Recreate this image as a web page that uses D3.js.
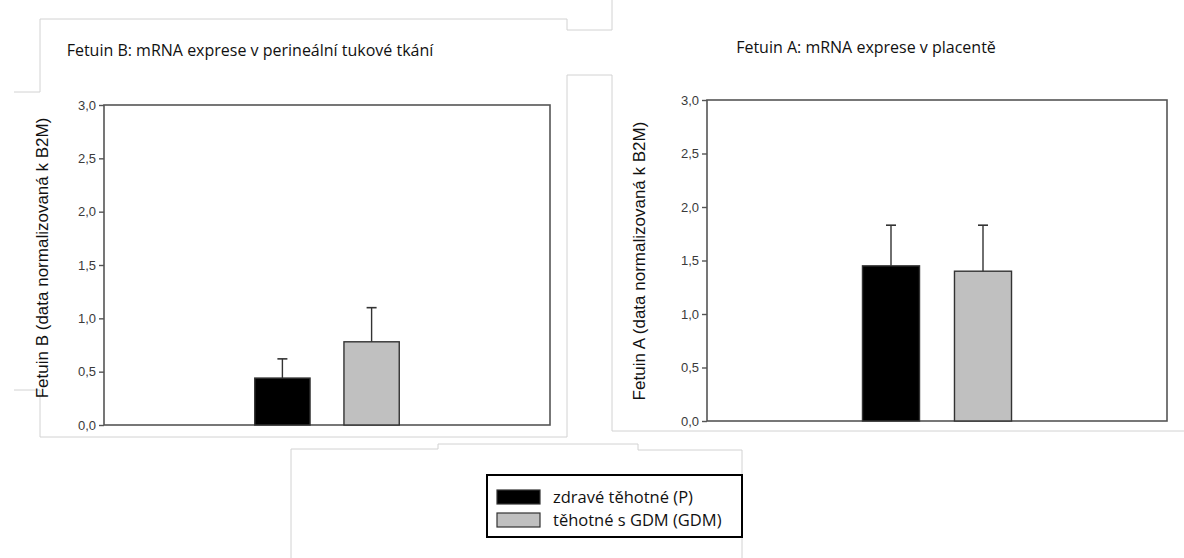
<!DOCTYPE html>
<html>
<head>
<meta charset="utf-8">
<script src="https://cdn.jsdelivr.net/npm/d3@7"></script>
<style>
  html, body { margin: 0; padding: 0; background: #fff; }
  svg { display: block; }
</style>
</head>
<body>
<svg id="chart" width="1184" height="558"></svg>
<script>
// Groups and their fills
const groups = ["zdravé těhotné (P)", "těhotné s GDM (GDM)"];
const groupColors = ["#000000", "#c0c0c0"];

// Fetuin B, perineal adipose tissue: means and upper error (SD)
const fetuinBMean = [0.44, 0.78];
const fetuinBErr = [0.18, 0.32];

// Fetuin A, placenta: means and upper error (SD)
const fetuinAMean = [1.45, 1.40];
const fetuinAErr = [0.38, 0.43];

// Y axis ticks
const yTicks = [0, 0.5, 1.0, 1.5, 2.0, 2.5, 3.0];

const titles = [
  "Fetuin B: mRNA exprese v perineální tukové tkání",
  "Fetuin A: mRNA exprese v placentě"
];
const yLabels = [
  "Fetuin B (data normalizovaná k B2M)",
  "Fetuin A (data normalizovaná k B2M)"
];

const svg = d3.select("#chart");
svg.append("rect").attr("width", 1184).attr("height", 558).attr("fill", "#fff");

// Faint outlines of the pasted panels
const pasteEdges = [
  [[40, 92], [40, 19], [567, 19], [567, 30], [612, 30], [612, 0]],
  [[14, 92], [40, 92]],
  [[612, 75], [567, 75], [567, 437], [40, 437], [40, 390], [14, 390]],
  [[612, 75], [612, 431], [1184, 431]],
  [[291, 558], [291, 449], [438, 449], [438, 444], [638, 444], [638, 450], [742, 450], [742, 558]]
];
svg.append("g").selectAll("path").data(pasteEdges).join("path")
  .attr("d", d => d3.line()(d))
  .attr("fill", "none")
  .attr("stroke", "#d2d2d2")
  .attr("stroke-width", 1);

const fmt = v => d3.format(".1f")(v).replace(".", ",");

function panel(cfg) {
  const { x0, x1, y0, y1, means, errs, title, titleX, titleY, yLabel, yLabelX, yLabelY } = cfg;
  const g = svg.append("g");
  const y = d3.scaleLinear().domain([0, 3]).range([y1, y0]);
  const w = x1 - x0;
  const x = d3.scaleBand().domain(groups)
    .range([x0 + 0.3 * w, x0 + 0.7 * w])
    .paddingInner(0.38).paddingOuter(0.19);

  // frame
  g.append("rect")
    .attr("x", x0).attr("y", y0).attr("width", w).attr("height", y1 - y0)
    .attr("fill", "none").attr("stroke", "#555").attr("stroke-width", 1.6);

  // y axis
  const ax = g.append("g").attr("transform", `translate(${x0},0)`)
    .call(d3.axisLeft(y).tickValues(yTicks).tickFormat(fmt).tickSize(5).tickPadding(3));
  ax.select(".domain").remove();
  ax.selectAll(".tick line").attr("stroke", "#555").attr("stroke-width", 1.4);
  ax.selectAll(".tick text")
    .attr("fill", "#3a3a3a")
    .style("font-family", "'Liberation Sans', Arial, sans-serif")
    .style("font-size", "13px");

  // bars
  const data = groups.map((k, i) => ({ k, m: means[i], e: errs[i], c: groupColors[i] }));
  g.append("g").selectAll("rect").data(data).join("rect")
    .attr("x", d => x(d.k))
    .attr("width", x.bandwidth())
    .attr("y", d => y(d.m))
    .attr("height", d => y(0) - y(d.m))
    .attr("fill", d => d.c)
    .attr("stroke", "#333")
    .attr("stroke-width", 1.4);

  // upper error bars
  const eb = g.append("g").selectAll("g").data(data).join("g");
  eb.append("line")
    .attr("x1", d => x(d.k) + x.bandwidth() / 2)
    .attr("x2", d => x(d.k) + x.bandwidth() / 2)
    .attr("y1", d => y(d.m))
    .attr("y2", d => y(d.m + d.e))
    .attr("stroke", "#333").attr("stroke-width", 1.4);
  eb.append("line")
    .attr("x1", d => x(d.k) + x.bandwidth() / 2 - 5)
    .attr("x2", d => x(d.k) + x.bandwidth() / 2 + 5)
    .attr("y1", d => y(d.m + d.e))
    .attr("y2", d => y(d.m + d.e))
    .attr("stroke", "#333").attr("stroke-width", 1.6);

  // title
  svg.append("text")
    .attr("x", titleX).attr("y", titleY)
    .attr("text-anchor", "middle")
    .style("font-family", "'Open Sans', sans-serif")
    .style("font-size", "16px")
    .attr("fill", "#111")
    .text(title);

  // y label
  svg.append("text")
    .attr("transform", `translate(${yLabelX},${yLabelY}) rotate(-90)`)
    .attr("text-anchor", "middle")
    .style("font-family", "'Liberation Sans', Arial, sans-serif")
    .style("font-size", "17px")
    .attr("fill", "#111")
    .text(yLabel);
}

panel({ x0: 104, x1: 550, y0: 105, y1: 425, means: fetuinBMean, errs: fetuinBErr,
  title: titles[0], titleX: 250, titleY: 56, yLabel: yLabels[0], yLabelX: 48, yLabelY: 258 });
panel({ x0: 707, x1: 1167, y0: 100, y1: 421, means: fetuinAMean, errs: fetuinAErr,
  title: titles[1], titleX: 866, titleY: 53, yLabel: yLabels[1], yLabelX: 645, yLabelY: 261 });

// legend
const lg = svg.append("g");
lg.append("rect").attr("x", 487).attr("y", 475).attr("width", 255).attr("height", 62)
  .attr("fill", "#fff").attr("stroke", "#000").attr("stroke-width", 2);
const items = lg.selectAll("g.item").data(groups).join("g").attr("class", "item")
  .attr("transform", (d, i) => `translate(497,${490 + i * 23})`);
items.append("rect").attr("width", 43).attr("height", 14)
  .attr("fill", (d, i) => groupColors[i]).attr("stroke", "#333").attr("stroke-width", 1.2);
items.append("text").attr("x", 56).attr("y", 12.5)
  .style("font-family", "'Open Sans', sans-serif")
  .style("font-size", "16.5px")
  .attr("fill", "#111")
  .text(d => d);
</script>
</body>
</html>
